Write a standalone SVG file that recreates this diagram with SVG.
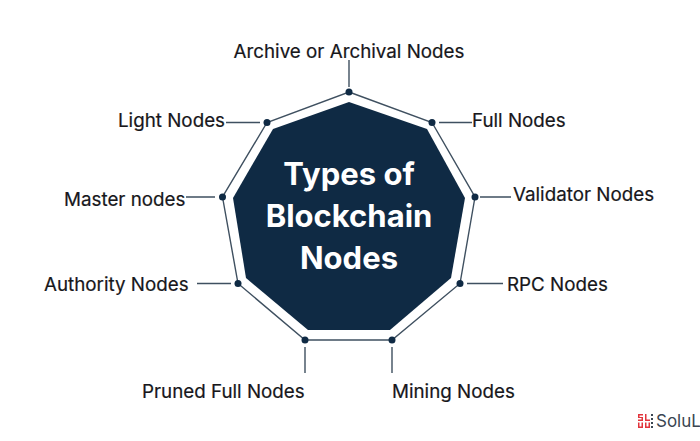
<svg xmlns="http://www.w3.org/2000/svg" width="700" height="441" viewBox="0 0 700 441">
<style>
.l{font-family:Inter,"Liberation Sans",sans-serif;font-size:18.800px;font-weight:400;fill:#17171b;stroke:#17171b;stroke-width:.2}
.t{font-family:Inter,"Liberation Sans",sans-serif;font-size:31px;font-weight:700;fill:#fff;text-anchor:middle}
.c{fill:none;stroke:#3f5060;stroke-width:1.4}
.d{fill:#0f2a44}
</style>
<rect width="700" height="441" fill="#fff"/>
<g id="connectors">
<path class="c" d="M349 92L432 122.500L475 197L460 283.500L392 340H305L238 283.500L222.500 197L267 122.500Z"/>
<path class="c" d="M349 60V87M439 122.500H472M480 197H511M467 283.500H503M392 347V373M305 347V373M197 283.500H231M186 197H215M226 122.500H260"/>
</g>
<g id="hub">
<polygon points="349,102 427,129 465,198 451,278 390,330 308,330 246,278 233,198 273,129" fill="#0f2a44"/>
<text class="t" x="349" y="185">Types of</text>
<text class="t" x="349" y="227">Blockchain</text>
<text class="t" x="349" y="269">Nodes</text>
</g>
<g id="node-archive"><circle class="d" cx="349" cy="92" r="3.500"/><text class="l" x="349" y="58" text-anchor="middle">Archive or Archival Nodes</text></g>
<g id="node-full"><circle class="d" cx="432" cy="122.500" r="3.500"/><text class="l" x="472" y="127">Full Nodes</text></g>
<g id="node-validator"><circle class="d" cx="475" cy="197" r="3.500"/><text class="l" x="513" y="201">Validator Nodes</text></g>
<g id="node-rpc"><circle class="d" cx="460" cy="283.500" r="3.500"/><text class="l" x="507" y="291">RPC Nodes</text></g>
<g id="node-mining"><circle class="d" cx="392" cy="340" r="3.500"/><text class="l" x="392" y="398">Mining Nodes</text></g>
<g id="node-pruned"><circle class="d" cx="305" cy="340" r="3.500"/><text class="l" x="142" y="398">Pruned Full Nodes</text></g>
<g id="node-authority"><circle class="d" cx="238" cy="283.500" r="3.500"/><text class="l" x="44" y="291">Authority Nodes</text></g>
<g id="node-master"><circle class="d" cx="222.500" cy="197" r="3.500"/><text class="l" x="64" y="206">Master nodes</text></g>
<g id="node-light"><circle class="d" cx="267" cy="122.500" r="3.500"/><text class="l" x="118" y="127">Light Nodes</text></g>
<g id="logo" fill="#e2343c">
<path d="M638 414h5v1.500h-3.500v1.500h3.500v4h-5v-1.500h3.500v-1.500h-3.500zM645 414h1.500v5.500h3.500v1.500h-5zM638 422.500h1.500v4h2v-4h1.500v5.500h-5zM645 422.500h1.500v4h2v-4h1.500v5.500h-5z"/>
<rect x="651" y="414" width="2" height="2" fill="#3a4652"/><rect x="651" y="418" width="2" height="2" fill="#3a4652"/><rect x="651" y="422" width="2" height="2" fill="#3a4652"/><rect x="651" y="426" width="2" height="2" fill="#3a4652"/>
<text x="656" y="427" font-family="Inter,'Liberation Sans',sans-serif" font-size="17" fill="#3a4652">SoluL</text>
</g>
</svg>
